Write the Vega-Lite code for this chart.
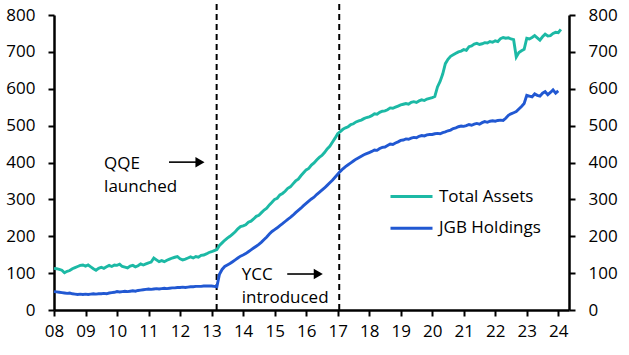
{
  "$schema": "https://vega.github.io/schema/vega-lite/v6.json",
  "width": 515,
  "height": 295,
  "autosize": {"type": "none"},
  "padding": {"left": 54, "top": 15, "right": 60, "bottom": 45},
  "config": {
    "view": {"stroke": null},
    "font": "Open Sans",
    "axis": {"grid": false, "domainColor": "#000", "tickColor": "#000", "labelColor": "#000", "labelFontSize": 17, "domainWidth": 2.5, "tickWidth": 2, "tickSize": 6, "title": null, "labelOverlap": false, "labelFlush": false}
  },
  "datasets": {
    "bs": [
      {"t": 2008.000, "Total Assets": 113, "JGB Holdings": 50},
      {"t": 2008.083, "Total Assets": 112, "JGB Holdings": 49},
      {"t": 2008.167, "Total Assets": 110, "JGB Holdings": 48},
      {"t": 2008.250, "Total Assets": 108, "JGB Holdings": 47},
      {"t": 2008.333, "Total Assets": 101, "JGB Holdings": 46},
      {"t": 2008.417, "Total Assets": 105, "JGB Holdings": 45},
      {"t": 2008.500, "Total Assets": 107, "JGB Holdings": 46},
      {"t": 2008.583, "Total Assets": 112, "JGB Holdings": 44},
      {"t": 2008.667, "Total Assets": 115, "JGB Holdings": 43},
      {"t": 2008.750, "Total Assets": 118, "JGB Holdings": 42},
      {"t": 2008.833, "Total Assets": 121, "JGB Holdings": 43},
      {"t": 2008.917, "Total Assets": 122, "JGB Holdings": 42},
      {"t": 2009.000, "Total Assets": 119, "JGB Holdings": 43},
      {"t": 2009.083, "Total Assets": 122, "JGB Holdings": 42},
      {"t": 2009.167, "Total Assets": 117, "JGB Holdings": 43},
      {"t": 2009.250, "Total Assets": 112, "JGB Holdings": 44},
      {"t": 2009.333, "Total Assets": 108, "JGB Holdings": 43},
      {"t": 2009.417, "Total Assets": 113, "JGB Holdings": 44},
      {"t": 2009.500, "Total Assets": 116, "JGB Holdings": 44},
      {"t": 2009.583, "Total Assets": 113, "JGB Holdings": 45},
      {"t": 2009.667, "Total Assets": 117, "JGB Holdings": 44},
      {"t": 2009.750, "Total Assets": 121, "JGB Holdings": 46},
      {"t": 2009.833, "Total Assets": 118, "JGB Holdings": 47},
      {"t": 2009.917, "Total Assets": 122, "JGB Holdings": 48},
      {"t": 2010.000, "Total Assets": 121, "JGB Holdings": 50},
      {"t": 2010.083, "Total Assets": 124, "JGB Holdings": 49},
      {"t": 2010.167, "Total Assets": 118, "JGB Holdings": 50},
      {"t": 2010.250, "Total Assets": 116, "JGB Holdings": 51},
      {"t": 2010.333, "Total Assets": 114, "JGB Holdings": 50},
      {"t": 2010.417, "Total Assets": 119, "JGB Holdings": 51},
      {"t": 2010.500, "Total Assets": 121, "JGB Holdings": 52},
      {"t": 2010.583, "Total Assets": 117, "JGB Holdings": 51},
      {"t": 2010.667, "Total Assets": 120, "JGB Holdings": 53},
      {"t": 2010.750, "Total Assets": 125, "JGB Holdings": 54},
      {"t": 2010.833, "Total Assets": 122, "JGB Holdings": 55},
      {"t": 2010.917, "Total Assets": 125, "JGB Holdings": 56},
      {"t": 2011.000, "Total Assets": 128, "JGB Holdings": 57},
      {"t": 2011.083, "Total Assets": 130, "JGB Holdings": 56},
      {"t": 2011.167, "Total Assets": 141, "JGB Holdings": 57},
      {"t": 2011.250, "Total Assets": 136, "JGB Holdings": 58},
      {"t": 2011.333, "Total Assets": 131, "JGB Holdings": 57},
      {"t": 2011.417, "Total Assets": 134, "JGB Holdings": 58},
      {"t": 2011.500, "Total Assets": 131, "JGB Holdings": 59},
      {"t": 2011.583, "Total Assets": 135, "JGB Holdings": 58},
      {"t": 2011.667, "Total Assets": 138, "JGB Holdings": 59},
      {"t": 2011.750, "Total Assets": 141, "JGB Holdings": 60},
      {"t": 2011.833, "Total Assets": 143, "JGB Holdings": 60},
      {"t": 2011.917, "Total Assets": 145, "JGB Holdings": 61},
      {"t": 2012.000, "Total Assets": 139, "JGB Holdings": 61},
      {"t": 2012.083, "Total Assets": 136, "JGB Holdings": 62},
      {"t": 2012.167, "Total Assets": 138, "JGB Holdings": 61},
      {"t": 2012.250, "Total Assets": 141, "JGB Holdings": 62},
      {"t": 2012.333, "Total Assets": 144, "JGB Holdings": 63},
      {"t": 2012.417, "Total Assets": 141, "JGB Holdings": 63},
      {"t": 2012.500, "Total Assets": 145, "JGB Holdings": 64},
      {"t": 2012.583, "Total Assets": 143, "JGB Holdings": 64},
      {"t": 2012.667, "Total Assets": 148, "JGB Holdings": 64},
      {"t": 2012.750, "Total Assets": 149, "JGB Holdings": 65},
      {"t": 2012.833, "Total Assets": 152, "JGB Holdings": 65},
      {"t": 2012.917, "Total Assets": 156, "JGB Holdings": 65},
      {"t": 2013.000, "Total Assets": 158, "JGB Holdings": 65},
      {"t": 2013.083, "Total Assets": 161, "JGB Holdings": 64},
      {"t": 2013.167, "Total Assets": 164, "JGB Holdings": 63},
      {"t": 2013.250, "Total Assets": 175, "JGB Holdings": 97},
      {"t": 2013.333, "Total Assets": 182, "JGB Holdings": 110},
      {"t": 2013.417, "Total Assets": 189, "JGB Holdings": 118},
      {"t": 2013.500, "Total Assets": 195, "JGB Holdings": 122},
      {"t": 2013.583, "Total Assets": 200, "JGB Holdings": 126},
      {"t": 2013.667, "Total Assets": 206, "JGB Holdings": 131},
      {"t": 2013.750, "Total Assets": 212, "JGB Holdings": 136},
      {"t": 2013.833, "Total Assets": 220, "JGB Holdings": 141},
      {"t": 2013.917, "Total Assets": 226, "JGB Holdings": 146},
      {"t": 2014.000, "Total Assets": 228, "JGB Holdings": 149},
      {"t": 2014.083, "Total Assets": 231, "JGB Holdings": 153},
      {"t": 2014.167, "Total Assets": 238, "JGB Holdings": 158},
      {"t": 2014.250, "Total Assets": 241, "JGB Holdings": 163},
      {"t": 2014.333, "Total Assets": 247, "JGB Holdings": 168},
      {"t": 2014.417, "Total Assets": 254, "JGB Holdings": 173},
      {"t": 2014.500, "Total Assets": 257, "JGB Holdings": 178},
      {"t": 2014.583, "Total Assets": 264, "JGB Holdings": 184},
      {"t": 2014.667, "Total Assets": 271, "JGB Holdings": 191},
      {"t": 2014.750, "Total Assets": 276, "JGB Holdings": 198},
      {"t": 2014.833, "Total Assets": 285, "JGB Holdings": 206},
      {"t": 2014.917, "Total Assets": 292, "JGB Holdings": 213},
      {"t": 2015.000, "Total Assets": 300, "JGB Holdings": 218},
      {"t": 2015.083, "Total Assets": 303, "JGB Holdings": 223},
      {"t": 2015.167, "Total Assets": 312, "JGB Holdings": 229},
      {"t": 2015.250, "Total Assets": 316, "JGB Holdings": 234},
      {"t": 2015.333, "Total Assets": 322, "JGB Holdings": 240},
      {"t": 2015.417, "Total Assets": 330, "JGB Holdings": 246},
      {"t": 2015.500, "Total Assets": 334, "JGB Holdings": 251},
      {"t": 2015.583, "Total Assets": 342, "JGB Holdings": 257},
      {"t": 2015.667, "Total Assets": 350, "JGB Holdings": 264},
      {"t": 2015.750, "Total Assets": 355, "JGB Holdings": 270},
      {"t": 2015.833, "Total Assets": 364, "JGB Holdings": 276},
      {"t": 2015.917, "Total Assets": 372, "JGB Holdings": 283},
      {"t": 2016.000, "Total Assets": 380, "JGB Holdings": 289},
      {"t": 2016.083, "Total Assets": 384, "JGB Holdings": 295},
      {"t": 2016.167, "Total Assets": 393, "JGB Holdings": 301},
      {"t": 2016.250, "Total Assets": 399, "JGB Holdings": 306},
      {"t": 2016.333, "Total Assets": 407, "JGB Holdings": 313},
      {"t": 2016.417, "Total Assets": 414, "JGB Holdings": 319},
      {"t": 2016.500, "Total Assets": 419, "JGB Holdings": 325},
      {"t": 2016.583, "Total Assets": 427, "JGB Holdings": 331},
      {"t": 2016.667, "Total Assets": 437, "JGB Holdings": 338},
      {"t": 2016.750, "Total Assets": 444, "JGB Holdings": 345},
      {"t": 2016.833, "Total Assets": 455, "JGB Holdings": 352},
      {"t": 2016.917, "Total Assets": 466, "JGB Holdings": 360},
      {"t": 2017.000, "Total Assets": 478, "JGB Holdings": 368},
      {"t": 2017.083, "Total Assets": 484, "JGB Holdings": 376},
      {"t": 2017.167, "Total Assets": 490, "JGB Holdings": 383},
      {"t": 2017.250, "Total Assets": 494, "JGB Holdings": 389},
      {"t": 2017.333, "Total Assets": 497, "JGB Holdings": 394},
      {"t": 2017.417, "Total Assets": 503, "JGB Holdings": 399},
      {"t": 2017.500, "Total Assets": 505, "JGB Holdings": 404},
      {"t": 2017.583, "Total Assets": 510, "JGB Holdings": 409},
      {"t": 2017.667, "Total Assets": 513, "JGB Holdings": 413},
      {"t": 2017.750, "Total Assets": 515, "JGB Holdings": 417},
      {"t": 2017.833, "Total Assets": 519, "JGB Holdings": 421},
      {"t": 2017.917, "Total Assets": 522, "JGB Holdings": 424},
      {"t": 2018.000, "Total Assets": 524, "JGB Holdings": 427},
      {"t": 2018.083, "Total Assets": 527, "JGB Holdings": 430},
      {"t": 2018.167, "Total Assets": 532, "JGB Holdings": 434},
      {"t": 2018.250, "Total Assets": 531, "JGB Holdings": 433},
      {"t": 2018.333, "Total Assets": 536, "JGB Holdings": 438},
      {"t": 2018.417, "Total Assets": 539, "JGB Holdings": 441},
      {"t": 2018.500, "Total Assets": 540, "JGB Holdings": 442},
      {"t": 2018.583, "Total Assets": 543, "JGB Holdings": 446},
      {"t": 2018.667, "Total Assets": 548, "JGB Holdings": 450},
      {"t": 2018.750, "Total Assets": 547, "JGB Holdings": 449},
      {"t": 2018.833, "Total Assets": 550, "JGB Holdings": 453},
      {"t": 2018.917, "Total Assets": 553, "JGB Holdings": 456},
      {"t": 2019.000, "Total Assets": 556, "JGB Holdings": 460},
      {"t": 2019.083, "Total Assets": 558, "JGB Holdings": 461},
      {"t": 2019.167, "Total Assets": 560, "JGB Holdings": 464},
      {"t": 2019.250, "Total Assets": 558, "JGB Holdings": 463},
      {"t": 2019.333, "Total Assets": 563, "JGB Holdings": 466},
      {"t": 2019.417, "Total Assets": 565, "JGB Holdings": 468},
      {"t": 2019.500, "Total Assets": 563, "JGB Holdings": 467},
      {"t": 2019.583, "Total Assets": 567, "JGB Holdings": 471},
      {"t": 2019.667, "Total Assets": 570, "JGB Holdings": 473},
      {"t": 2019.750, "Total Assets": 568, "JGB Holdings": 472},
      {"t": 2019.833, "Total Assets": 572, "JGB Holdings": 475},
      {"t": 2019.917, "Total Assets": 574, "JGB Holdings": 476},
      {"t": 2020.000, "Total Assets": 576, "JGB Holdings": 476},
      {"t": 2020.083, "Total Assets": 579, "JGB Holdings": 478},
      {"t": 2020.167, "Total Assets": 605, "JGB Holdings": 479},
      {"t": 2020.250, "Total Assets": 620, "JGB Holdings": 478},
      {"t": 2020.333, "Total Assets": 640, "JGB Holdings": 481},
      {"t": 2020.417, "Total Assets": 668, "JGB Holdings": 483},
      {"t": 2020.500, "Total Assets": 680, "JGB Holdings": 486},
      {"t": 2020.583, "Total Assets": 688, "JGB Holdings": 488},
      {"t": 2020.667, "Total Assets": 692, "JGB Holdings": 492},
      {"t": 2020.750, "Total Assets": 696, "JGB Holdings": 494},
      {"t": 2020.833, "Total Assets": 700, "JGB Holdings": 497},
      {"t": 2020.917, "Total Assets": 702, "JGB Holdings": 499},
      {"t": 2021.000, "Total Assets": 706, "JGB Holdings": 498},
      {"t": 2021.083, "Total Assets": 704, "JGB Holdings": 500},
      {"t": 2021.167, "Total Assets": 714, "JGB Holdings": 503},
      {"t": 2021.250, "Total Assets": 716, "JGB Holdings": 501},
      {"t": 2021.333, "Total Assets": 721, "JGB Holdings": 504},
      {"t": 2021.417, "Total Assets": 723, "JGB Holdings": 506},
      {"t": 2021.500, "Total Assets": 720, "JGB Holdings": 504},
      {"t": 2021.583, "Total Assets": 722, "JGB Holdings": 508},
      {"t": 2021.667, "Total Assets": 725, "JGB Holdings": 511},
      {"t": 2021.750, "Total Assets": 724, "JGB Holdings": 509},
      {"t": 2021.833, "Total Assets": 728, "JGB Holdings": 512},
      {"t": 2021.917, "Total Assets": 726, "JGB Holdings": 513},
      {"t": 2022.000, "Total Assets": 730, "JGB Holdings": 512},
      {"t": 2022.083, "Total Assets": 728, "JGB Holdings": 514},
      {"t": 2022.167, "Total Assets": 736, "JGB Holdings": 515},
      {"t": 2022.250, "Total Assets": 739, "JGB Holdings": 514},
      {"t": 2022.333, "Total Assets": 737, "JGB Holdings": 520},
      {"t": 2022.417, "Total Assets": 738, "JGB Holdings": 528},
      {"t": 2022.500, "Total Assets": 735, "JGB Holdings": 532},
      {"t": 2022.583, "Total Assets": 733, "JGB Holdings": 535},
      {"t": 2022.667, "Total Assets": 686, "JGB Holdings": 538},
      {"t": 2022.750, "Total Assets": 698, "JGB Holdings": 545},
      {"t": 2022.833, "Total Assets": 703, "JGB Holdings": 552},
      {"t": 2022.917, "Total Assets": 707, "JGB Holdings": 560},
      {"t": 2023.000, "Total Assets": 737, "JGB Holdings": 582},
      {"t": 2023.083, "Total Assets": 735, "JGB Holdings": 580},
      {"t": 2023.167, "Total Assets": 739, "JGB Holdings": 578},
      {"t": 2023.250, "Total Assets": 744, "JGB Holdings": 586},
      {"t": 2023.333, "Total Assets": 738, "JGB Holdings": 582},
      {"t": 2023.417, "Total Assets": 732, "JGB Holdings": 580},
      {"t": 2023.500, "Total Assets": 741, "JGB Holdings": 588},
      {"t": 2023.583, "Total Assets": 748, "JGB Holdings": 592},
      {"t": 2023.667, "Total Assets": 743, "JGB Holdings": 584},
      {"t": 2023.750, "Total Assets": 744, "JGB Holdings": 590},
      {"t": 2023.833, "Total Assets": 750, "JGB Holdings": 597},
      {"t": 2023.917, "Total Assets": 753, "JGB Holdings": 588},
      {"t": 2024.000, "Total Assets": 752, "JGB Holdings": 594},
      {"t": 2024.083, "Total Assets": 761}
    ]
  },
  "encoding": {
    "x": {
      "field": "t", "type": "quantitative",
      "scale": {"domain": [2008, 2024.34], "nice": false, "zero": false},
      "axis": {"values": [2008, 2009, 2010, 2011, 2012, 2013, 2014, 2015, 2016, 2017, 2018, 2019, 2020, 2021, 2022, 2023, 2024], "labelExpr": "slice(toString(datum.value), 2)", "labelPadding": 7, "labelOverlap": false, "labelBound": false, "labelSeparation": 0}
    }
  },
  "layer": [
    {
      "data": {"values": [{"t": 2013.16}, {"t": 2017.05}]},
      "mark": {"type": "rule", "strokeDash": [6, 4], "strokeWidth": 2, "color": "#000", "clip": false},
      "encoding": {
        "y": {"datum": 0, "type": "quantitative", "scale": {"domain": [0, 800], "nice": false}, "axis": null},
        "y2": {"datum": 832}
      }
    },
    {
      "data": {"name": "bs"},
      "transform": [{"fold": ["Total Assets", "JGB Holdings"], "as": ["series", "v"]}],
      "mark": {"type": "line", "strokeWidth": 2.9},
      "encoding": {
        "y": {
          "field": "v", "type": "quantitative",
          "scale": {"domain": [0, 800], "nice": false},
          "axis": {"orient": "left", "values": [0, 100, 200, 300, 400, 500, 600, 700, 800], "labelPadding": 13, "labelOverlap": false}
        },
        "color": {
          "field": "series", "type": "nominal",
          "scale": {"domain": ["Total Assets", "JGB Holdings"], "range": ["#1cb9a5", "#2158d2"]},
          "legend": {"orient": "none", "legendX": 335, "legendY": 166, "title": null, "symbolType": "stroke", "symbolSize": 1764, "symbolStrokeWidth": 3, "clipHeight": 31, "rowPadding": 0.7, "labelFontSize": 17, "labelOffset": 5, "labelColor": "#000", "padding": 0}
        }
      }
    },
    {
      "data": {"name": "bs"},
      "transform": [{"fold": ["Total Assets", "JGB Holdings"], "as": ["series", "v"]}],
      "mark": {"type": "line", "strokeOpacity": 0},
      "encoding": {
        "y": {
          "field": "v", "type": "quantitative",
          "scale": {"domain": [0, 800], "nice": false},
          "axis": {"orient": "right", "values": [0, 100, 200, 300, 400, 500, 600, 700, 800], "labelPadding": 13, "labelOverlap": false}
        },
        "detail": {"field": "series"}
      }
    },
    {
      "data": {"values": [{"t": 2011.648, "t2": 2012.56, "v": 401}, {"t": 2015.40, "t2": 2016.31, "v": 97.6}]},
      "mark": {"type": "rule", "strokeWidth": 1.6, "color": "#000"},
      "encoding": {
        "x2": {"field": "t2"},
        "y": {"field": "v", "type": "quantitative", "scale": {"domain": [0, 800], "nice": false}, "axis": null}
      }
    },
    {
      "data": {"values": [{"t": 2012.632, "v": 401}, {"t": 2016.385, "v": 97.6}]},
      "mark": {"type": "point", "shape": "triangle-right", "filled": true, "color": "#000", "opacity": 1, "size": 110},
      "encoding": {
        "y": {"field": "v", "type": "quantitative", "scale": {"domain": [0, 800], "nice": false}, "axis": null}
      }
    },
    {
      "data": {"values": [
        {"t": 2009.59, "v": 381.6, "label": "QQE"},
        {"t": 2009.59, "v": 319.2, "label": "launched"},
        {"t": 2013.955, "v": 81.4, "label": "YCC"},
        {"t": 2013.955, "v": 18.2, "label": "introduced"}
      ]},
      "mark": {"type": "text", "align": "left", "baseline": "alphabetic", "fontSize": 17, "color": "#000"},
      "encoding": {
        "y": {"field": "v", "type": "quantitative", "scale": {"domain": [0, 800], "nice": false}, "axis": null},
        "text": {"field": "label"}
      }
    }
  ],
  "resolve": {"scale": {"y": "independent"}}
}
